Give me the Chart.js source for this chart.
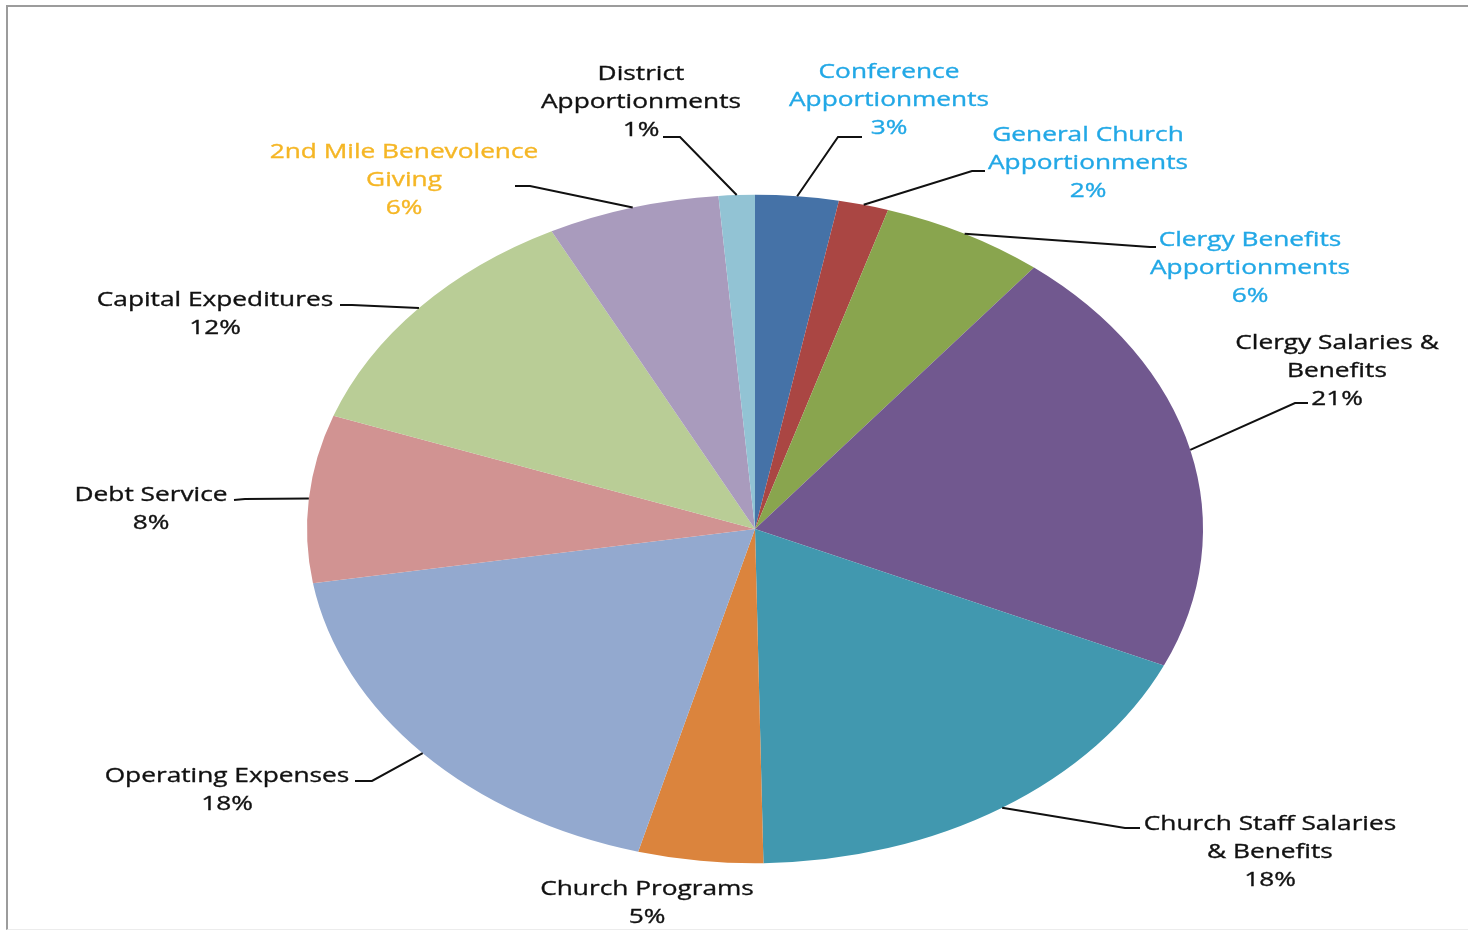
<!DOCTYPE html>
<html>
<head>
<meta charset="utf-8">
<script src="https://cdn.jsdelivr.net/npm/chart.js@4"></script>
<style>
  html, body { margin: 0; padding: 0; background: #fff; overflow: hidden; width: 1468px; height: 931px; }
  #frame {
    position: absolute; left: 6px; top: 5px; width: 1500px; height: 922px;
    border-top: 2px solid #9c9c9c; border-left: 2px solid #9c9c9c; border-bottom: 1px solid #ececec;
  }
  #budget { position: absolute; left: 0; top: 0; }
</style>
</head>
<body>
<div id="frame"></div>
<canvas id="budget" width="1468" height="1100"></canvas>
<script>
// slices, clockwise from 12 o'clock
const categories = [
  'Conference Apportionments',
  'General Church Apportionments',
  'Clergy Benefits Apportionments',
  'Clergy Salaries & Benefits',
  'Church Staff Salaries & Benefits',
  'Church Programs',
  'Operating Expenses',
  'Debt Service',
  'Capital Expeditures',
  '2nd Mile Benevolence Giving',
  'District Apportionments'
];
const shares = [3.0, 1.8, 5.9, 21.0, 18.0, 4.5, 18.2, 8.1, 12.0, 6.2, 1.3];

// how the category names wrap on the chart
const labelLines = [
  ['Conference', 'Apportionments'],
  ['General Church', 'Apportionments'],
  ['Clergy Benefits', 'Apportionments'],
  ['Clergy Salaries &', 'Benefits'],
  ['Church Staff Salaries', '& Benefits'],
  ['Church Programs'],
  ['Operating Expenses'],
  ['Debt Service'],
  ['Capital Expeditures'],
  ['2nd Mile Benevolence', 'Giving'],
  ['District', 'Apportionments']
];

const sliceColors = ['#4572a7', '#aa4643', '#89a54e', '#71588f', '#4198af', '#db843d',
                     '#93a9cf', '#d19392', '#b9cd96', '#a99bbd', '#92c3d4'];
const textColors = ['#22a8e6', '#22a8e6', '#22a8e6', '#111111', '#111111', '#111111',
                    '#111111', '#111111', '#111111', '#f5b625', '#111111'];

// label placement: centre x, first line y, leader elbow and end
const labelLayout = [
  { x: 889,  y: 72,  elbow: [838, 137],  end: [862, 137] },
  { x: 1088, y: 135, elbow: [972, 171],  end: [985, 171] },
  { x: 1250, y: 240, elbow: [1150, 247], end: [1156, 247] },
  { x: 1337, y: 343, elbow: [1295, 403], end: [1308, 403] },
  { x: 1270, y: 824, elbow: [1125, 828], end: [1140, 828] },
  { x: 647,  y: 889, elbow: null,        end: null },
  { x: 227,  y: 776, elbow: [372, 781],  end: [355, 781] },
  { x: 151,  y: 495, elbow: [245, 499],  end: [234, 500] },
  { x: 215,  y: 300, elbow: [352, 305],  end: [340, 305] },
  { x: 404,  y: 152, elbow: [530, 186],  end: [515, 186] },
  { x: 641,  y: 74,  elbow: [680, 137],  end: [663, 137] }
];

const SQUASH = 0.746;     // pie is drawn as a flattened ellipse
const LINE_H = 28;
const TEXT_STRETCH = 1.28;

const squashPlugin = {
  id: 'squash',
  beforeDatasetsDraw(chart) {
    const arc = chart.getDatasetMeta(0).data[0];
    const ctx = chart.ctx;
    ctx.save();
    ctx.translate(arc.x, arc.y);
    ctx.scale(1, SQUASH);
    ctx.translate(-arc.x, -arc.y);
  },
  afterDatasetsDraw(chart) {
    chart.ctx.restore();
  }
};

const labelPlugin = {
  id: 'outsideLabels',
  afterDraw(chart) {
    const ctx = chart.ctx;
    const total = shares.reduce((a, b) => a + b, 0);
    chart.getDatasetMeta(0).data.forEach((arc, i) => {
      const lay = labelLayout[i];
      const mid = (arc.startAngle + arc.endAngle) / 2;
      const sx = arc.x + arc.outerRadius * Math.cos(mid);
      const sy = arc.y + arc.outerRadius * Math.sin(mid) * SQUASH;

      if (lay.elbow) {
        ctx.save();
        ctx.strokeStyle = '#111';
        ctx.lineWidth = 2;
        ctx.beginPath();
        ctx.moveTo(sx, sy);
        ctx.lineTo(lay.elbow[0], lay.elbow[1]);
        ctx.lineTo(lay.end[0], lay.end[1]);
        ctx.stroke();
        ctx.restore();
      }

      const pct = Math.round(Math.round(shares[i] / total * 1000) / 10) + '%';
      const lines = labelLines[i].concat([pct]);
      ctx.save();
      ctx.font = '20.5px "Open Sans"';
      ctx.fillStyle = textColors[i];
      ctx.strokeStyle = textColors[i];
      ctx.lineWidth = 0.35;
      ctx.textAlign = 'center';
      ctx.textBaseline = 'middle';
      lines.forEach((t, k) => {
        ctx.save();
        ctx.translate(lay.x, lay.y + k * LINE_H);
        ctx.scale(TEXT_STRETCH, 1);
        ctx.fillText(t, 0, 0);
        ctx.strokeText(t, 0, 0);
        ctx.restore();
      });
      ctx.restore();
    });
  }
};

new Chart(document.getElementById('budget'), {
  type: 'pie',
  data: {
    labels: categories,
    datasets: [{
      data: shares,
      backgroundColor: sliceColors,
      borderWidth: 0
    }]
  },
  options: {
    responsive: false,
    animation: false,
    layout: { padding: { left: 307, right: 265, top: 81, bottom: 123 } },
    plugins: {
      legend: { display: false },
      tooltip: { enabled: false }
    }
  },
  plugins: [squashPlugin, labelPlugin]
});
</script>
</body>
</html>
